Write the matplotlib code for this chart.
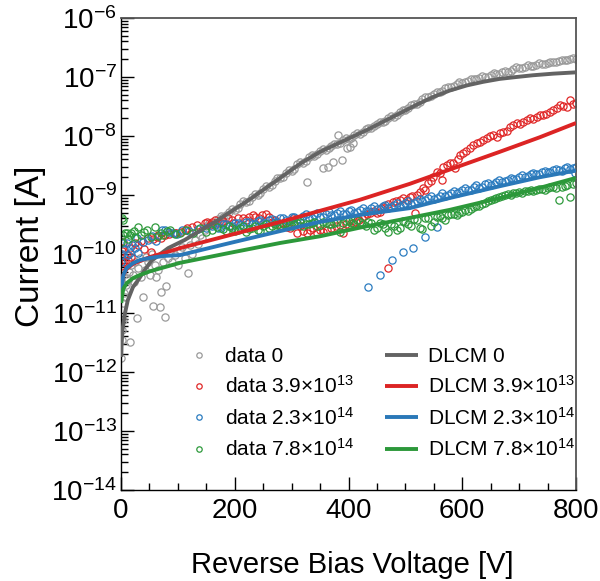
import matplotlib
matplotlib.use('Agg')
import matplotlib.pyplot as plt
from matplotlib.ticker import LogLocator, LogFormatterSciNotation, MultipleLocator, NullFormatter
import numpy as np

plt.rcParams['font.family'] = ['Liberation Sans', 'DejaVu Sans']
plt.rcParams['mathtext.fontset'] = 'custom'
plt.rcParams['mathtext.rm'] = 'Liberation Sans'
plt.rcParams['mathtext.it'] = 'Liberation Sans:italic'
plt.rcParams['mathtext.bf'] = 'Liberation Sans:bold'

# ---- measured data: reverse bias voltage [V] and leakage current [A] ----
data0_V = [0, 1, 2, 3.5, 4, 5, 7, 8, 10, 12, 14, 16, 18, 21, 23, 25, 28, 30, 33, 36,
           39, 42, 44, 47, 51, 54, 56, 60, 62, 65, 69, 70, 74, 77, 79, 83, 86, 90, 95,
           100, 104, 108, 112, 118, 121, 125, 130, 135, 139, 143, 148,
           150, 160, 170, 180, 190, 200, 210, 220, 230, 240, 250, 260, 270, 280, 290,
           300, 310, 320, 327, 330, 340, 350, 355, 360, 364, 370, 373, 380, 381, 389,
           390, 397, 400, 403, 408, 410, 420, 430, 440, 450, 460, 470, 480, 490, 500,
           510, 520, 530, 540, 550, 560, 570, 580, 590, 600, 610, 620, 630, 640, 650,
           660, 670, 680, 690, 700, 710, 720, 730, 740, 750, 760, 770, 780, 790, 800]
data0_I = [1.7e-12, 3.5e-12, 5.1e-12, 7.6e-12, 1.5e-11, 2.2e-11, 1.9e-11, 3.0e-11, 3.9e-11,
           3.6e-11, 4.9e-11, 3.2e-12, 6.5e-11, 4.4e-11, 3.3e-11, 7.2e-11, 8.3e-12, 5.7e-11,
           8.5e-11, 4.0e-11, 1.9e-11, 5.4e-11, 9.0e-11, 7.2e-11, 4.4e-11, 1.0e-10, 1.3e-11,
           6.5e-11, 4.0e-11, 5.4e-11, 1.26e-11, 2.3e-11, 7.2e-11, 8.5e-12, 2.9e-11, 8.5e-11,
           1.1e-10, 7.2e-11, 9.6e-11, 6.5e-11, 1.17e-10, 1.3e-10, 8.5e-11, 4.8e-11, 1.4e-10,
           1.0e-10, 1.74e-10, 1.5e-10, 2.1e-10, 1.9e-10, 2.6e-10,
           3.0e-10, 3.2e-10, 3.9e-10, 4.3e-10, 5.2e-10, 5.6e-10, 7.1e-10, 7.6e-10, 9.3e-10,
           1.02e-9, 1.26e-9, 1.38e-9, 1.74e-9, 1.91e-9, 2.4e-9, 2.6e-9, 3.3e-9, 3.5e-9,
           1.66e-9, 4.4e-9, 4.6e-9, 5.6e-9, 2.9e-9, 5.9e-9, 2.95e-9, 6.9e-9, 3.6e-9, 7.2e-9,
           1.05e-8, 3.9e-9, 8.5e-9, 6.3e-9, 8.9e-9, 6.5e-9, 7.6e-9, 1.05e-8, 1.07e-8,
           1.29e-8, 1.35e-8, 1.62e-8, 1.7e-8, 2.04e-8, 2.14e-8, 2.6e-8, 2.8e-8, 3.3e-8,
           3.5e-8, 4.2e-8, 4.5e-8, 5.2e-8, 5.6e-8, 6.5e-8, 6.9e-8, 7.6e-8, 7.9e-8, 8.7e-8,
           9.1e-8, 9.8e-8, 1.02e-7, 1.07e-7, 1.12e-7, 1.2e-7, 1.23e-7, 1.35e-7, 1.41e-7,
           1.48e-7, 1.55e-7, 1.62e-7, 1.66e-7, 1.74e-7, 1.78e-7, 1.86e-7, 1.91e-7, 2.0e-7,
           2.04e-7]
# readings taken in between the ones above
data0_V_mid = [155, 165, 175, 185, 195, 205, 215, 225, 235, 245, 255, 265, 275, 285, 295,
               305, 315, 325, 335, 345, 355, 365, 375, 385, 395, 405, 415, 425, 435, 445,
               455, 465, 475, 485, 495, 505, 515, 525, 535, 545, 555, 565, 575, 585, 595,
               605, 615, 625, 635, 645, 655, 665, 675, 685, 695, 705, 715, 725, 735, 745,
               755, 765, 775, 785, 795]
data0_I_mid = [3.3e-10, 3.2e-10, 4.4e-10, 4.5e-10, 5.8e-10, 6.0e-10, 7.8e-10, 7.9e-10,
               1.05e-9, 1.07e-9, 1.41e-9, 1.48e-9, 1.95e-9, 2.04e-9, 2.7e-9, 2.8e-9,
               3.6e-9, 3.8e-9, 4.7e-9, 4.9e-9, 6.0e-9, 6.2e-9, 7.4e-9, 7.6e-9, 9.1e-9,
               9.3e-9, 1.12e-8, 1.15e-8, 1.38e-8, 1.45e-8, 1.74e-8, 1.82e-8, 2.2e-8, 2.3e-8,
               2.8e-8, 2.95e-8, 3.5e-8, 3.7e-8, 4.5e-8, 4.7e-8, 5.6e-8, 5.9e-8, 6.9e-8,
               7.1e-8, 8.1e-8, 8.1e-8, 9.3e-8, 9.1e-8, 1.05e-7, 1.02e-7, 1.15e-7, 1.12e-7,
               1.26e-7, 1.26e-7, 1.45e-7, 1.41e-7, 1.58e-7, 1.55e-7, 1.7e-7, 1.66e-7,
               1.82e-7, 1.78e-7, 1.95e-7, 1.91e-7, 2.1e-7]

data39_V = [0, 1, 2, 3.5, 4, 7, 10, 12, 15, 18, 25, 30, 35, 40, 47, 53, 57, 63, 65, 70,
            77, 85, 95, 97, 105, 112, 116, 125, 134, 148, 151, 156, 160, 170, 180, 195,
            197, 205, 214, 220, 232, 236, 248, 260, 270, 285, 292, 302, 309, 315, 327,
            332, 345, 350, 362, 370, 385, 390, 400, 408, 418, 428, 438, 445, 455, 462,
            469, 470, 478, 491, 496, 503, 508, 517, 520, 531, 534, 540, 549, 556, 564,
            566, 573, 578, 587, 596, 601, 614, 619, 626, 631, 643, 654, 661, 666, 672,
            679, 684, 696, 707, 719, 731, 742, 754, 760, 772, 784, 789, 795, 800]
data39_I = [6.3e-11, 1.12e-10, 1.26e-10, 7.2e-11, 1.58e-10, 7.2e-11, 9.6e-11, 7.9e-11,
            1.26e-10, 8.9e-11, 1.55e-10, 1.41e-10, 1.66e-10, 1.2e-10, 1.86e-10, 1.07e-10,
            1.78e-10, 1.95e-10, 2.1e-10, 1.9e-10, 2.1e-10, 2.2e-10, 2.3e-10, 2.3e-10,
            2.4e-10, 2.6e-10, 2.75e-10, 2.9e-10, 3.1e-10, 3.4e-10, 3.5e-10, 3.1e-10,
            3.5e-10, 3.3e-10, 3.6e-10, 3.8e-10, 3.4e-10, 4.0e-10, 4.1e-10, 3.8e-10,
            4.6e-10, 4.3e-10, 4.6e-10, 4.2e-10, 3.7e-10, 3.4e-10, 2.9e-10, 4.1e-10,
            2.3e-10, 3.0e-10, 2.3e-10, 2.6e-10, 2.3e-10, 2.6e-10, 2.6e-10, 2.8e-10,
            3.1e-10, 2.3e-10, 3.0e-10, 3.4e-10, 3.8e-10, 4.4e-10, 4.9e-10, 5.4e-10,
            5.1e-10, 6.3e-10, 5.8e-11, 7.1e-10, 7.6e-10, 8.3e-10, 8.9e-10, 8.3e-10,
            9.3e-10, 4.9e-10, 1.0e-9, 1.32e-9, 1.2e-9, 1.58e-9, 2.04e-9, 2.45e-9, 1.78e-9,
            2.95e-9, 3.2e-9, 3.5e-9, 2.9e-9, 4.8e-9, 5.1e-9, 6.3e-9, 7.1e-9, 7.6e-9,
            7.9e-9, 9.3e-9, 1.05e-8, 9.6e-9, 1.12e-8, 1.17e-8, 1.2e-8, 1.41e-8, 1.66e-8,
            1.74e-8, 2.04e-8, 2.1e-8, 2.3e-8, 2.6e-8, 2.75e-8, 3.4e-8, 3.1e-8, 4.1e-8,
            3.5e-8, 3.6e-8]
data39_V_mid = [165, 175, 188, 225, 242, 255, 265, 278, 297, 320, 338, 356, 378, 395, 413,
                423, 433, 450, 458, 484, 512, 525, 545, 560, 583, 592, 607, 637, 648, 690,
                702, 713, 725, 736, 748, 766, 778]
data39_I_mid = [3.8e-10, 3.4e-10, 4.0e-10, 4.3e-10, 4.0e-10, 4.7e-10, 3.5e-10, 3.2e-10,
                2.8e-10, 2.5e-10, 2.75e-10, 2.35e-10, 2.95e-10, 3.2e-10, 3.5e-10, 4.0e-10,
                4.7e-10, 5.0e-10, 6.0e-10, 7.9e-10, 9.5e-10, 1.12e-9, 1.74e-9, 2.4e-9,
                3.5e-9, 4.0e-9, 5.5e-9, 8.7e-9, 1.0e-8, 1.51e-8, 1.58e-8, 1.9e-8, 1.95e-8,
                2.24e-8, 2.4e-8, 3.0e-8, 3.2e-8]

data23_V = [0, 2, 4, 6, 10, 12, 16, 20, 25, 28, 30, 38, 47, 55, 62, 72, 77, 85, 91, 98,
            107, 120, 135, 150, 160, 170, 180, 190, 200, 210, 220, 230, 240, 250, 260,
            270, 280, 290, 300, 310, 320, 330, 340, 350, 360, 370, 380, 390, 400, 410,
            420, 430, 434, 440, 450, 455, 460, 470, 476, 480, 490, 496, 500, 510, 513,
            520, 530, 534, 540, 550, 556, 560, 570, 580, 590, 600, 610, 620, 630, 640,
            650, 660, 670, 680, 690, 700, 710, 720, 730, 740, 750, 760, 770, 780, 790,
            798, 800]
data23_I = [7.2e-11, 1.0e-10, 1.55e-10, 1.2e-10, 1.55e-10, 9.6e-11, 1.05e-10, 1.41e-10,
            1.26e-10, 1.86e-10, 1.05e-10, 1.58e-10, 1.74e-10, 2.0e-10, 1.66e-10, 2.6e-10,
            2.6e-10, 2.4e-10, 2.3e-10, 2.2e-10, 2.6e-10, 2.5e-10, 2.7e-10, 2.8e-10,
            2.95e-10, 2.8e-10, 3.2e-10, 3.0e-10, 3.3e-10, 3.1e-10, 3.5e-10, 3.2e-10,
            3.6e-10, 3.4e-10, 3.8e-10, 3.5e-10, 4.0e-10, 3.7e-10, 4.2e-10, 3.9e-10,
            4.4e-10, 4.0e-10, 4.6e-10, 4.3e-10, 4.8e-10, 4.5e-10, 5.0e-10, 4.8e-10,
            5.4e-10, 5.0e-10, 5.6e-10, 5.3e-10, 2.75e-11, 6.0e-10, 5.8e-10, 4.4e-11,
            6.5e-10, 6.1e-10, 7.9e-11, 6.9e-10, 6.6e-10, 1.07e-10, 7.4e-10, 7.1e-10,
            1.26e-10, 7.9e-10, 7.8e-10, 1.95e-10, 8.9e-10, 8.6e-10, 2.9e-10, 9.8e-10,
            9.6e-10, 1.1e-9, 1.08e-9, 1.23e-9, 1.2e-9, 1.35e-9, 1.33e-9, 1.51e-9, 1.48e-9,
            1.66e-9, 1.64e-9, 1.82e-9, 1.86e-9, 2.04e-9, 2.0e-9, 2.3e-9, 2.25e-9, 2.5e-9,
            2.45e-9, 2.7e-9, 2.65e-9, 2.9e-9, 2.8e-9, 2.35e-9, 3.0e-9]
data23_V_mid = [165, 175, 185, 195, 205, 215, 225, 235, 245, 255, 265, 275, 285, 295, 305,
                315, 325, 335, 345, 355, 365, 375, 385, 395, 405, 415, 425, 435, 445, 455,
                465, 475, 485, 495, 505, 515, 525, 535, 545, 555, 565, 575, 585, 595, 605,
                615, 625, 635, 645, 655, 665, 675, 685, 695, 705, 715, 725, 735, 745, 755,
                765, 775, 785, 795]
data23_I_mid = [3.1e-10, 2.75e-10, 3.2e-10, 2.95e-10, 3.4e-10, 3.0e-10, 3.5e-10, 3.2e-10,
                3.7e-10, 3.3e-10, 3.9e-10, 3.5e-10, 4.1e-10, 3.6e-10, 4.3e-10, 3.8e-10,
                4.7e-10, 4.0e-10, 4.9e-10, 4.2e-10, 5.1e-10, 4.6e-10, 5.4e-10, 4.7e-10,
                5.6e-10, 5.1e-10, 6.0e-10, 5.4e-10, 6.5e-10, 5.9e-10, 6.9e-10, 6.3e-10,
                7.4e-10, 6.8e-10, 7.9e-10, 7.4e-10, 8.7e-10, 8.1e-10, 9.5e-10, 8.9e-10,
                1.07e-9, 1.0e-9, 1.17e-9, 1.12e-9, 1.32e-9, 1.23e-9, 1.45e-9, 1.38e-9,
                1.62e-9, 1.51e-9, 1.78e-9, 1.7e-9, 1.95e-9, 1.86e-9, 2.2e-9, 2.1e-9, 2.4e-9,
                2.24e-9, 2.6e-9, 2.5e-9, 2.8e-9, 2.6e-9, 3.0e-9, 2.9e-9]

data78_V = [0, 2, 3, 4, 7, 10, 12, 16, 18, 22, 25, 30, 35, 40, 46, 53, 60, 65, 70, 74,
            80, 86, 95, 104, 115, 127, 139, 150, 160, 169, 180, 190, 200, 210, 220, 230,
            240, 250, 260, 270, 280, 290, 300, 310, 320, 330, 340, 350, 360, 370, 380,
            390, 400, 410, 420, 430, 440, 450, 460, 470, 480, 490, 500, 510, 520, 530,
            540, 550, 560, 570, 580, 590, 600, 610, 620, 630, 640, 650, 660, 670, 680,
            690, 700, 710, 720, 730, 740, 750, 760, 770, 780, 790, 800]
data78_I = [1.6e-10, 4.1e-10, 2.1e-10, 3.8e-10, 2.3e-10, 2.3e-10, 1.8e-10, 2.1e-10,
            2.3e-10, 2.5e-10, 1.95e-10, 2.9e-10, 2.1e-10, 2.4e-10, 2.6e-10, 1.95e-10,
            2.9e-10, 2.0e-10, 2.3e-10, 2.1e-10, 2.5e-10, 2.6e-10, 2.2e-10, 2.3e-10,
            2.6e-10, 2.3e-10, 2.75e-10, 2.4e-10, 2.6e-10, 2.9e-10, 2.7e-10, 2.95e-10,
            2.5e-10, 2.8e-10, 2.4e-10, 2.75e-10, 2.6e-10, 2.95e-10, 2.8e-10, 3.2e-10,
            3.0e-10, 3.3e-10, 2.95e-10, 3.4e-10, 3.0e-10, 3.2e-10, 3.5e-10, 3.1e-10,
            3.4e-10, 3.2e-10, 3.5e-10, 3.3e-10, 3.6e-10, 3.2e-10, 3.5e-10, 3.0e-10,
            3.4e-10, 2.8e-10, 3.2e-10, 2.4e-10, 2.95e-10, 2.75e-10, 3.5e-10, 3.0e-10,
            3.8e-10, 2.7e-10, 4.0e-10, 3.5e-10, 4.4e-10, 3.8e-10, 4.7e-10, 4.5e-10,
            5.2e-10, 5.4e-10, 6.2e-10, 6.6e-10, 7.4e-10, 8.3e-10, 8.9e-10, 9.8e-10,
            1.05e-9, 1.07e-9, 1.12e-9, 1.15e-9, 1.2e-9, 1.23e-9, 1.26e-9, 1.32e-9,
            1.35e-9, 8.3e-10, 1.41e-9, 9.3e-10, 1.58e-9]
data78_V_mid = [185, 195, 205, 215, 225, 235, 245, 255, 265, 275, 285, 295, 305, 315, 325,
                335, 345, 355, 365, 375, 385, 395, 405, 415, 425, 435, 445, 455, 465, 475,
                485, 495, 505, 515, 525, 535, 545, 555, 565, 575, 585, 595, 605, 615, 625,
                635, 645, 655, 665, 675, 685, 695, 705, 715, 725, 735, 745, 755, 765, 775,
                785, 795]
data78_I_mid = [2.5e-10, 2.8e-10, 2.6e-10, 3.0e-10, 2.7e-10, 2.95e-10, 2.5e-10, 3.2e-10,
                2.95e-10, 3.1e-10, 3.2e-10, 3.1e-10, 3.2e-10, 3.5e-10, 3.2e-10, 3.4e-10,
                2.95e-10, 3.5e-10, 3.2e-10, 3.4e-10, 2.4e-10, 3.6e-10, 3.4e-10, 3.7e-10,
                3.2e-10, 3.5e-10, 2.6e-10, 3.4e-10, 2.75e-10, 3.2e-10, 2.6e-10, 3.6e-10,
                3.2e-10, 3.9e-10, 2.8e-10, 4.0e-10, 3.0e-10, 4.2e-10, 4.0e-10, 4.5e-10,
                4.8e-10, 5.0e-10, 5.5e-10, 5.8e-10, 6.5e-10, 7.1e-10, 7.8e-10, 8.7e-10,
                9.3e-10, 1.0e-9, 1.02e-9, 1.1e-9, 1.1e-9, 1.17e-9, 1.17e-9, 1.26e-9,
                1.23e-9, 1.35e-9, 1.32e-9, 1.38e-9, 1.45e-9, 1.51e-9]

# ---- DLCM model curves ----
dlcm0_V = [0.5, 1, 2.5, 7, 12, 21, 30, 42, 53, 69, 83, 112, 165, 222, 280, 315, 350,
           432, 491, 520, 549, 578, 608, 637, 666, 695, 724, 760, 800]
dlcm0_I = [1.8e-12, 2.9e-12, 5.1e-12, 1.0e-11, 1.66e-11, 2.75e-11, 3.6e-11, 5.4e-11,
           7.6e-11, 1.0e-10, 1.26e-10, 1.73e-10, 3.5e-10, 7.9e-10, 1.95e-9, 3.4e-9,
           5.4e-9, 1.26e-8, 2.45e-8, 3.4e-8, 4.6e-8, 5.9e-8, 7.2e-8, 8.3e-8, 9.3e-8,
           1.0e-7, 1.07e-7, 1.14e-7, 1.2e-7]

dlcm_V = [0.5, 2, 4, 10, 21, 33, 51, 77, 104, 192, 280, 350, 420, 508, 578, 666, 736, 800]
dlcm39_I = [2.45e-11, 3.4e-11, 4.4e-11, 5.6e-11, 6.8e-11, 7.6e-11, 8.9e-11, 1.05e-10,
            1.26e-10, 2.1e-10, 3.5e-10, 5.4e-10, 8.3e-10, 1.55e-9, 2.7e-9, 5.4e-9,
            9.5e-9, 1.66e-8]
dlcm23_I = [2.1e-11, 3.1e-11, 4.4e-11, 5.8e-11, 7.0e-11, 7.9e-11, 8.6e-11, 9.3e-11,
            9.6e-11, 1.54e-10, 2.45e-10, 3.5e-10, 4.6e-10, 6.0e-10, 8.9e-10, 1.41e-9,
            2.0e-9, 2.6e-9]
dlcm78_I = [1.48e-11, 1.95e-11, 2.57e-11, 3.2e-11, 3.9e-11, 4.4e-11, 5.1e-11, 6.0e-11,
            7.1e-11, 1.05e-10, 1.54e-10, 2.0e-10, 2.8e-10, 4.1e-10, 5.6e-10, 8.9e-10,
            1.32e-9, 1.95e-9]

labels = ['0', r'3.9$\times$10$^{13}$', r'2.3$\times$10$^{14}$', r'7.8$\times$10$^{14}$']
data_colors = ['#9a9a9a', '#e02828', '#2b7cc0', '#2e9a3c']
line_colors = ['#636363', '#dc2424', '#2a78b8', '#2c983a']

fig = plt.figure(figsize=(6, 5.81), dpi=100)
ax = fig.add_axes([0.2017, 0.1566, 0.7583, 0.8124])

data_sets = [(data0_V + data0_V_mid, data0_I + data0_I_mid),
             (data39_V + data39_V_mid, data39_I + data39_I_mid),
             (data23_V + data23_V_mid, data23_I + data23_I_mid),
             (data78_V + data78_V_mid, data78_I + data78_I_mid)]
line_sets = [(dlcm0_V, dlcm0_I), (dlcm_V, dlcm39_I), (dlcm_V, dlcm23_I), (dlcm_V, dlcm78_I)]

handles_data = []
for (v, i), c, lab in zip(data_sets, data_colors, labels):
    h, = ax.plot(v, i, 'o', ms=5.2, mfc='none', mec=c, mew=0.9, ls='none',
                 label='data ' + lab, zorder=2)
    handles_data.append(h)

handles_line = []
for (v, i), c, lab in zip(line_sets, line_colors, labels):
    h, = ax.plot(v, i, '-', color=c, lw=2.8, label='DLCM ' + lab, zorder=3,
                 solid_capstyle='butt', solid_joinstyle='round')
    handles_line.append(h)

ax.set_yscale('log')
ax.set_xlim(0, 800)
ax.set_ylim(1e-14, 1e-6)

ax.xaxis.set_major_locator(MultipleLocator(200))
ax.xaxis.set_minor_locator(MultipleLocator(50))
ax.yaxis.set_major_locator(LogLocator(base=10, numticks=20))
ax.yaxis.set_major_formatter(LogFormatterSciNotation())
ax.yaxis.set_minor_locator(LogLocator(base=10, subs=np.arange(2, 10), numticks=20))
ax.yaxis.set_minor_formatter(NullFormatter())

ax.tick_params(which='both', direction='in', top=False, right=False, width=1.0,
               labelsize=20, colors='black')
ax.tick_params(axis='x', which='major', length=9.5, pad=6)
ax.tick_params(axis='x', which='minor', length=5)
ax.tick_params(axis='y', which='major', length=9.5, pad=3)
ax.tick_params(axis='y', which='minor', length=5)

for s in ['left', 'bottom']:
    ax.spines[s].set_linewidth(1.0)
    ax.spines[s].set_color('black')
for s in ['top', 'right']:
    ax.spines[s].set_linewidth(1.3)
    ax.spines[s].set_color('#555555')

ax.set_xlabel('Reverse Bias Voltage [V]', fontsize=21)
ax.set_ylabel('Current [A]', fontsize=24)
ax.xaxis.set_label_coords(0.509, -0.13)
ax.yaxis.set_label_coords(-0.165, 0.517)

leg = ax.legend(handles_data + handles_line, [h.get_label() for h in handles_data + handles_line],
                ncol=2, frameon=False, fontsize=15, loc='upper left',
                bbox_to_anchor=(182 / 600, 1 - 347 / 581), bbox_transform=fig.transFigure,
                borderpad=0, borderaxespad=0, handlelength=1.6, handletextpad=0.45,
                columnspacing=1.5, labelspacing=0.45, markerscale=0.75)

fig.savefig('out.png', dpi=100)
